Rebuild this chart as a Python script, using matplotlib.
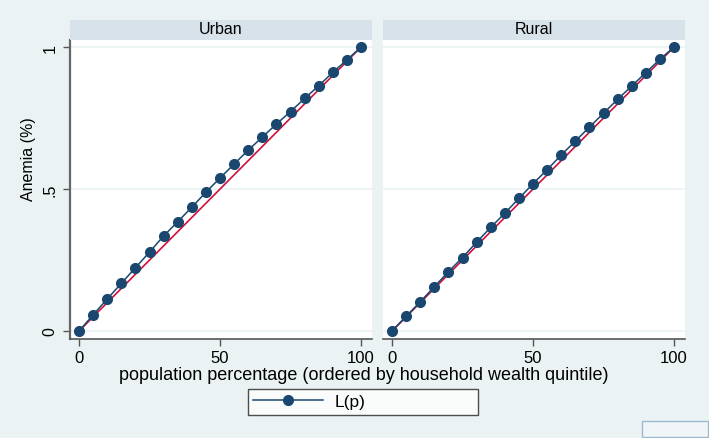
import matplotlib
matplotlib.use("Agg")
import matplotlib.pyplot as plt
from matplotlib.patches import Rectangle
from matplotlib.lines import Line2D

plt.rcParams['font.family'] = ['Liberation Sans', 'DejaVu Sans']

# Data
p = [0, 5, 10, 15, 20, 25, 30, 35, 40, 45, 50, 55, 60, 65, 70, 75, 80, 85, 90, 95, 100]
urban_L = [0.0, 0.057, 0.113, 0.168, 0.223, 0.278, 0.335, 0.385, 0.436, 0.489, 0.539,
           0.588, 0.637, 0.683, 0.729, 0.773, 0.819, 0.864, 0.911, 0.955, 1.0]
rural_L = [0.0, 0.052, 0.103, 0.156, 0.209, 0.259, 0.313, 0.365, 0.415, 0.467, 0.519,
           0.568, 0.620, 0.669, 0.718, 0.767, 0.816, 0.863, 0.910, 0.957, 1.0]
equality_x = [0, 100]
equality_y = [0, 1]
panels = ["Urban", "Rural"]
series = [urban_L, rural_L]
xticks = [0, 50, 100]
yticks = [0, 0.5, 1]
yticklabels = ["0", ".5", "1"]

BG = '#EAF2F3'
HEAD = '#D8E2EA'
NAVY = '#1A476F'
RED = '#D0103A'
W, H = 709, 439

fig = plt.figure(figsize=(W / 100, H / 100), dpi=100, facecolor=BG)

def fx(px):
    return px / W

def fy(py):
    return 1 - py / H

ax_left = [70, 383]
ax_w = 302
top, bottom = 41, 340

for i, (name, vals) in enumerate(zip(panels, series)):
    x0 = ax_left[i]
    ax = fig.add_axes([fx(x0), fy(bottom), ax_w / W, (bottom - top) / H])
    ax.set_facecolor('white')
    ax.plot(equality_x, equality_y, color=RED, lw=1.2, zorder=2)
    ax.plot(p, vals, color=NAVY, lw=1.1, marker='o', ms=7, zorder=3)
    ax.set_xlim(-3.2, 103.9)
    ax.set_ylim(-0.028, 1.025)
    ax.set_xticks(xticks)
    ax.set_xticklabels([str(t) for t in xticks], fontsize=12)
    ax.set_yticks(yticks)
    ax.yaxis.grid(True, color=BG, lw=1.2)
    ax.set_axisbelow(True)
    for s in ['top', 'right']:
        ax.spines[s].set_visible(False)
    ax.spines['bottom'].set_color('#555555')
    ax.spines['bottom'].set_linewidth(1.2)
    ax.tick_params(axis='x', length=5, width=1, color='#555555', pad=3)
    if i == 0:
        ax.spines['left'].set_color('#666666')
        ax.spines['left'].set_linewidth(1.6)
        ax.set_yticklabels(yticklabels, fontsize=11.5, rotation=90, va='center')
        ax.tick_params(axis='y', length=5, width=1, color='#555555', pad=4)
    else:
        ax.spines['left'].set_visible(False)
        ax.tick_params(axis='y', length=0, labelleft=False)
    # header strip
    fig.patches.append(Rectangle((fx(x0), fy(top)), ax_w / W, 20 / H,
                                 transform=fig.transFigure, facecolor=HEAD,
                                 edgecolor='none', zorder=0))
    fig.text(fx(x0 + ax_w / 2), fy(30), name, ha='center', va='center', fontsize=11.5)

fig.text(fx(28), fy(159), "Anemia (%)", rotation=90, ha='center', va='center', fontsize=11.5)
fig.text(fx(364), fy(376), "population percentage (ordered by household wealth quintile)",
         ha='center', va='center', fontsize=13)

handle = Line2D([], [], color=NAVY, lw=1.1, marker='o', ms=7)
leg = fig.legend([handle], ["L(p)"], loc='upper left',
                 bbox_to_anchor=(fx(248), fy(418), 230 / W, 28 / H), mode='expand',
                 fontsize=12.5, frameon=True, fancybox=False, handlelength=4.0,
                 borderaxespad=0, borderpad=0.3, handletextpad=0.7, numpoints=1)
leg.get_frame().set_edgecolor('#222222')
leg.get_frame().set_linewidth(1.0)
leg.get_frame().set_facecolor('white')

fig.patches.append(Rectangle((fx(642), fy(438)), 66 / W, 16 / H,
                             transform=fig.transFigure, facecolor='#F0F6F8',
                             edgecolor='#9DB8CF', lw=1.0))

fig.savefig("out.png", dpi=100, facecolor=BG)
